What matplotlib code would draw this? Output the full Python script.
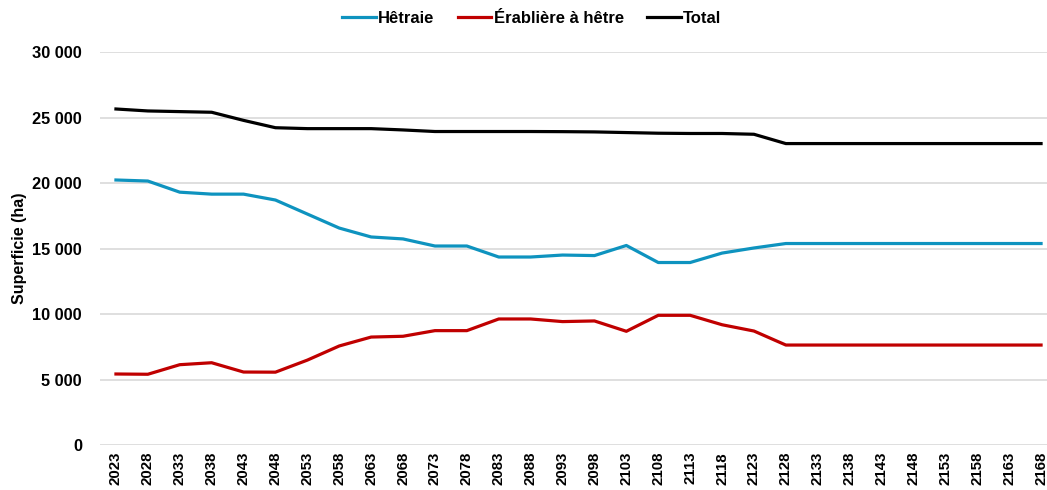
import matplotlib
matplotlib.use("Agg")
import matplotlib.pyplot as plt
from matplotlib.ticker import FuncFormatter

plt.rcParams['font.family'] = ['Liberation Sans', 'DejaVu Sans']

years = list(range(2023, 2169, 5))
hetraie = [20230, 20150, 19300, 19150, 19150, 18700, 17630, 16560, 15880, 15730,
           15190, 15190, 14350, 14350, 14500, 14460, 15230, 13930, 13930, 14650,
           15040, 15380, 15380, 15380, 15380, 15380, 15380, 15380, 15380, 15380]
erabliere = [5420, 5400, 6130, 6280, 5570, 5560, 6480, 7560, 8240, 8300,
             8730, 8730, 9620, 9620, 9420, 9470, 8680, 9900, 9900, 9180,
             8700, 7630, 7630, 7630, 7630, 7630, 7630, 7630, 7630, 7630]
total = [25650, 25500, 25450, 25400, 24780, 24220, 24150, 24150, 24150, 24050,
         23930, 23930, 23930, 23930, 23920, 23900, 23850, 23800, 23780, 23780,
         23720, 23010, 23010, 23010, 23010, 23010, 23010, 23010, 23010, 23010]
series_names = ["Hêtraie", "Érablière à hêtre", "Total"]
colors = ["#0E93BF", "#C00000", "#000000"]
yticks = [0, 5000, 10000, 15000, 20000, 25000, 30000]

fig = plt.figure(figsize=(10.47, 4.90), dpi=100)
ax = fig.add_axes([100/1047, 45/490, 957/1047, 393/490])
x = list(range(len(years)))
for data, name, c in zip([hetraie, erabliere, total], series_names, colors):
    ax.plot(x, data, color=c, lw=2.3, label=name, solid_joinstyle='round', zorder=3)

ax.set_xlim(-0.5, len(years) - 0.5)
ax.set_ylim(0, 30000)
ax.set_yticks(yticks)
ax.yaxis.set_major_formatter(FuncFormatter(lambda v, p: f"{int(v):,}".replace(",", " ")))
ax.set_xticks(x)
ax.set_xticklabels([str(y) for y in years], rotation=90, fontsize=10.8, fontweight='bold')
for lab in ax.get_yticklabels():
    lab.set_fontsize(11.8)
    lab.set_fontweight('bold')
ax.tick_params(length=0)
ax.tick_params(axis='y', pad=13)
ax.tick_params(axis='x', pad=5)
ax.grid(axis='y', color='#D9D9D9', lw=1.2, zorder=0)
for s in ax.spines.values():
    s.set_visible(False)
ax.set_ylabel("Superficie (ha)", fontsize=11.5, fontweight='bold', labelpad=4)

leg = fig.legend(loc='center', bbox_to_anchor=(0.508, 0.962), ncol=3, frameon=False,
                 prop={'size': 12, 'weight': 'bold'}, handlelength=2.0, handletextpad=0.15,
                 columnspacing=1.4)

fig.savefig("out.png", dpi=100)
